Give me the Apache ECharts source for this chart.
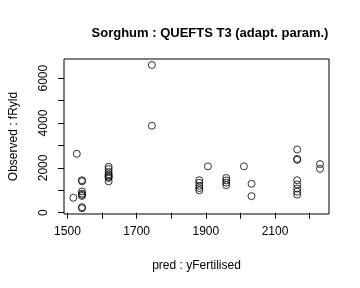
<!DOCTYPE html>
<html>
<head>
<meta charset="utf-8">
<script src="https://cdn.jsdelivr.net/npm/echarts@6/dist/echarts.min.js"></script>
<style>html,body{margin:0;padding:0;background:#fff}#c{width:360px;height:288px}</style>
</head>
<body>
<div id="c"></div>
<script>
const titleText = 'Sorghum : QUEFTS T3 (adapt. param.)';
const xName = 'pred : yFertilised';
const yName = 'Observed : fRyld';
const xTicks = [1500, 1600, 1700, 1800, 1900, 2000, 2100, 2200];
const xLabels = [1500, 1700, 1900, 2100];
const yTicks = [0, 1000, 2000, 3000, 4000, 5000, 6000];
const yLabels = [0, 2000, 4000, 6000];
const predicted = [1517, 1527,
  1542, 1542, 1542, 1542, 1542, 1542, 1542, 1542,
  1619, 1619, 1619, 1619, 1619, 1619, 1619, 1619,
  1744, 1744,
  1881, 1881, 1881, 1881, 1881,
  1906,
  1959, 1959, 1959, 1959,
  2010, 2032, 2032,
  2164, 2164, 2164, 2164, 2164, 2164, 2164, 2164,
  2230, 2230];
const observed = [670, 2630,
  1450, 1400, 950, 850, 800, 750, 250, 200,
  2050, 1950, 1820, 1720, 1650, 1600, 1550, 1400,
  6590, 3880,
  1450, 1330, 1200, 1100, 1000,
  2070,
  1550, 1440, 1340, 1230,
  2070, 1290, 740,
  2820, 2400, 2360, 1450, 1260, 1080, 940, 810,
  2170, 1960];

const chart = echarts.init(document.getElementById('c'), null, {renderer: 'canvas'});
const font = 'Liberation Sans, Arial, Helvetica, sans-serif';
const plain = v => String(Math.round(v));
chart.setOption({
  animation: false,
  backgroundColor: '#fff',
  title: {
    text: titleText, left: 205, top: 22, textAlign: 'center',
    textStyle: {fontFamily: font, fontSize: 13, fontWeight: 'bold', color: '#000'}
  },
  grid: {left: 59, right: 31, top: 59, bottom: 74, show: true, borderColor: '#000', borderWidth: 1, backgroundColor: 'transparent'},
  xAxis: {
    type: 'value', min: 1490, max: 2256,
    name: xName, nameLocation: 'middle', nameGap: 46,
    nameTextStyle: {fontFamily: font, fontSize: 12, color: '#000'},
    axisLine: {show: false},
    axisTick: {show: true, inside: false, length: 6, customValues: xTicks, lineStyle: {color: '#000'}},
    axisLabel: {customValues: xLabels, formatter: plain, margin: 12, fontFamily: font, fontSize: 12, color: '#000'},
    splitLine: {show: false}
  },
  yAxis: {
    type: 'value', min: -56, max: 6856,
    name: yName, nameLocation: 'middle', nameGap: 44, nameRotate: 90,
    nameTextStyle: {fontFamily: font, fontSize: 12, color: '#000'},
    axisLine: {show: false},
    axisTick: {show: true, inside: false, length: 6, customValues: yTicks, lineStyle: {color: '#000'}},
    axisLabel: {customValues: yLabels, formatter: plain, rotate: 90, margin: 14, fontFamily: font, fontSize: 12, color: '#000'},
    splitLine: {show: false}
  },
  series: [{
    type: 'scatter',
    data: predicted.map((p, i) => [p, observed[i]]),
    symbol: 'circle', symbolSize: 7,
    itemStyle: {color: 'rgba(0,0,0,0)', borderColor: '#000', borderWidth: 1},
    emphasis: {disabled: true}
  }]
});
</script>
</body>
</html>
